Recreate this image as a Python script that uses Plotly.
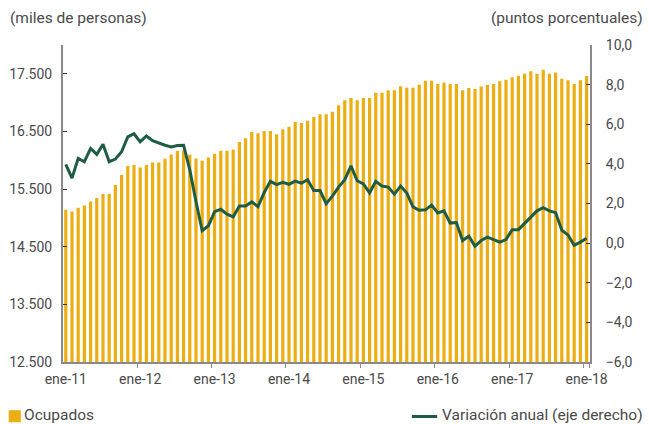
import plotly.graph_objects as go

meses = ["ene", "feb", "mar", "abr", "may", "jun", "jul", "ago", "sep", "oct", "nov", "dic"]
periodos = [f"{m}-{a}" for a in range(11, 18) for m in meses] + ["ene-18"]
etiquetas_x = [f"ene-{a}" for a in range(11, 19)]

ocupados = [
    15140, 15110, 15175, 15215, 15285, 15345, 15415, 15415, 15570, 15745, 15900, 15920,
    15875, 15920, 15960, 15960, 16025, 16100, 16160, 16170, 16095, 16030, 15990, 16050,
    16115, 16165, 16165, 16185, 16315, 16380, 16490, 16470, 16510, 16510, 16450, 16540,
    16580, 16665, 16645, 16685, 16750, 16800, 16800, 16840, 16955, 17040, 17080, 17040,
    17080, 17080, 17170, 17170, 17215, 17215, 17285, 17260, 17260, 17310, 17380, 17380,
    17325, 17350, 17325, 17325, 17215, 17255, 17235, 17280, 17305, 17325, 17370, 17395,
    17440, 17465, 17500, 17545, 17500, 17570, 17500, 17525, 17415, 17390, 17325, 17390,
    17460,
]

variacion = [
    3.98, 3.28, 4.28, 4.11, 4.78, 4.48, 4.99, 4.11, 4.24, 4.61, 5.36, 5.52,
    5.11, 5.41, 5.17, 5.04, 4.94, 4.86, 4.93, 4.94, 3.70, 2.10, 0.63, 0.88,
    1.59, 1.71, 1.46, 1.33, 1.87, 1.87, 2.08, 1.84, 2.56, 3.12, 2.95, 3.07,
    2.97, 3.13, 3.03, 3.20, 2.65, 2.65, 1.99, 2.37, 2.83, 3.20, 3.90, 3.15,
    2.99, 2.54, 3.12, 2.88, 2.83, 2.47, 2.88, 2.53, 1.83, 1.66, 1.68, 1.92,
    1.52, 1.63, 1.01, 1.04, 0.13, 0.35, -0.15, 0.13, 0.30, 0.18, 0.05, 0.18,
    0.68, 0.68, 1.00, 1.28, 1.63, 1.79, 1.63, 1.54, 0.66, 0.41, -0.11, 0.05,
    0.25,
]

ticks_izq = [12500, 13500, 14500, 15500, 16500, 17500]

ORO = "#EDAE13"
VERDE = "#1F5C44"
GRIS = "#8a8a8a"
TXT = "#4a4a4a"
FONT = "Roboto"

fig = go.Figure()
fig.add_trace(go.Bar(x=periodos, y=ocupados, name="Ocupados", marker_color=ORO,
                     marker_line_width=0, yaxis="y"))
fig.add_trace(go.Scatter(x=periodos, y=variacion, name="Variación anual (eje derecho)",
                         mode="lines", line=dict(color=VERDE, width=3), yaxis="y2"))

fig.update_layout(
    width=649, height=424,
    margin=dict(l=63, r=59, t=45, b=62),
    paper_bgcolor="white", plot_bgcolor="white",
    separators=",.",
    showlegend=False,
    bargap=0.48,
    font=dict(family=FONT, size=14, color=TXT),
    xaxis=dict(type="category", range=[-0.45, 84.55], tickvals=etiquetas_x, ticktext=etiquetas_x,
               tickson="boundaries", ticks="outside", ticklen=4, tickcolor=GRIS, tickangle=0,
               ticklabelstandoff=3,
               automargin=False, showline=True, linecolor=GRIS, linewidth=2, showgrid=False,
               tickfont=dict(size=14, color=TXT)),
    yaxis=dict(range=[12500, 18000], tickvals=ticks_izq, tickformat=",.0f", automargin=False,
               ticks="inside", ticklen=4, tickcolor="#333", showline=True, linecolor=GRIS,
               ticklabelstandoff=6,
               linewidth=2, showgrid=False, zeroline=False, tickfont=dict(size=14, color=TXT)),
    yaxis2=dict(range=[-6, 10], dtick=2, tick0=-6, tickformat=".1f", overlaying="y", side="right",
                automargin=False, ticks="inside", ticklen=4, tickcolor="#333", showline=True,
                ticklabelstandoff=11,
                linecolor=GRIS, linewidth=2, showgrid=False, zeroline=False,
                tickfont=dict(size=14, color=TXT)),
)

fig.add_annotation(text="(miles de personas)", xref="paper", yref="paper", x=-0.105, y=1.085,
                   xanchor="left", yanchor="middle", showarrow=False, font=dict(size=15.5, color=TXT))
fig.add_annotation(text="(puntos porcentuales)", xref="paper", yref="paper", x=1.105, y=1.085,
                   xanchor="right", yanchor="middle", showarrow=False, font=dict(size=15.5, color=TXT))

# leyenda manual
fig.add_shape(type="rect", xref="paper", yref="paper", x0=-0.103, x1=-0.080, y0=-0.152, y1=-0.190,
              fillcolor=ORO, line_width=0)
fig.add_annotation(text="Ocupados", xref="paper", yref="paper", x=-0.078, y=-0.168,
                   xanchor="left", yanchor="middle", showarrow=False, font=dict(size=15.5, color=TXT))
fig.add_shape(type="line", xref="paper", yref="paper", x0=0.662, x1=0.710, y0=-0.172, y1=-0.172,
              line=dict(color=VERDE, width=3))
fig.add_annotation(text="Variación anual (eje derecho)", xref="paper", yref="paper", x=1.105, y=-0.168,
                   xanchor="right", yanchor="middle", showarrow=False, font=dict(size=15.5, color=TXT))

fig.write_html("out.html", config={"displayModeBar": False},
               post_script="document.body.style.margin='0px';document.body.style.overflow='hidden';")
